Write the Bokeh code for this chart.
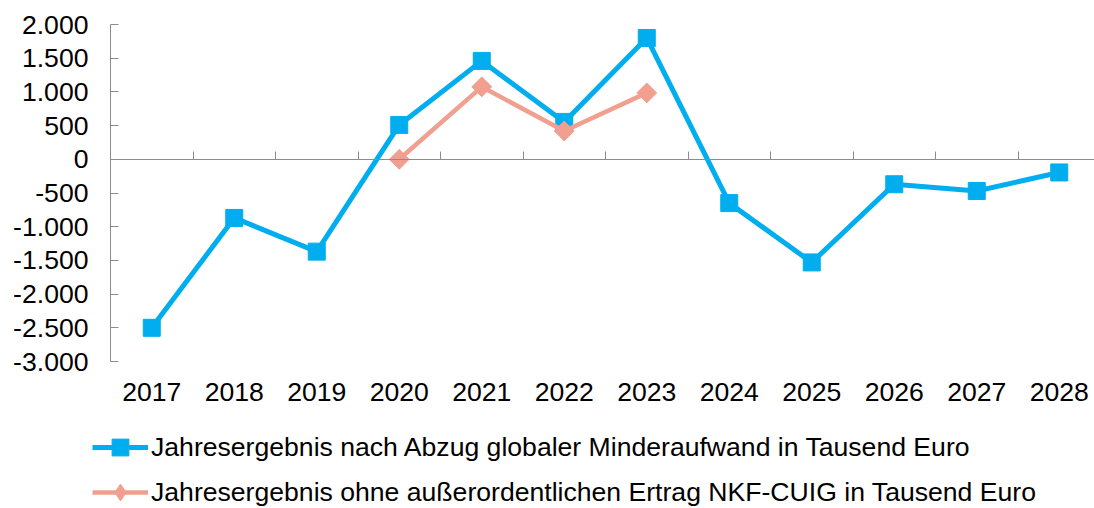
import math
from bokeh.plotting import figure
from bokeh.models import Range1d, LinearAxis, FixedTicker, Legend, LegendItem
from bokeh.embed import file_html
from bokeh.resources import INLINE

# ---- data ----
years = ["2017", "2018", "2019", "2020", "2021", "2022", "2023", "2024", "2025", "2026", "2027", "2028"]
ergebnis = [-2500, -870, -1370, 510, 1460, 555, 1800, -650, -1530, -370, -470, -195]
ohne_years = ["2020", "2021", "2022", "2023"]
ohne = [0, 1075, 420, 985]
y_ticks = [-3000, -2500, -2000, -1500, -1000, -500, 0, 500, 1000, 1500, 2000]
y_labels = ["-3.000", "-2.500", "-2.000", "-1.500", "-1.000", "-500", "0", "500", "1.000", "1.500", "2.000"]
label_blue = "Jahresergebnis nach Abzug globaler Minderaufwand in Tausend Euro"
label_salmon = "Jahresergebnis ohne außerordentlichen Ertrag NKF-CUIG in Tausend Euro"

BLUE = "#00AEEF"
SALMON = "#F19F8F"
AXIS = "#8C8C8C"
FONT = "Liberation Sans"
FS = "26.6px"

W, H = 1094, 508
AX_LEFT = 110          # pixel position of the value axis
TOP = 24               # pixel position of the top tick
BOTTOM = 361           # pixel position of the bottom tick
cat_px = 82.5          # pixel width of one category
px_per_unit = (BOTTOM - TOP) / (max(y_ticks) - min(y_ticks))

x_blue = [years.index(y) for y in years]
x_salmon = [years.index(y) for y in ohne_years]

x_start = -0.5 - AX_LEFT / cat_px
x_end = -0.5 + (W - AX_LEFT) / cat_px
y_end = max(y_ticks) + TOP / px_per_unit
y_start = min(y_ticks) - (H - BOTTOM) / px_per_unit

p = figure(width=W, height=H, output_backend="svg", toolbar_location=None,
           x_range=Range1d(x_start, x_end), y_range=Range1d(y_start, y_end),
           x_axis_location=None, y_axis_location=None,
           min_border_left=0, min_border_right=0, min_border_top=0, min_border_bottom=0)
p.outline_line_color = None
p.grid.visible = False

# y axis
yax = LinearAxis(fixed_location=-0.5,
                 ticker=FixedTicker(ticks=y_ticks),
                 major_label_overrides={t: l for t, l in zip(y_ticks, y_labels)},
                 bounds=(min(y_ticks), max(y_ticks)),
                 axis_line_color=AXIS, major_tick_line_color=AXIS,
                 major_tick_in=8, major_tick_out=0, minor_tick_line_color=None,
                 major_label_standoff=22,
                 major_label_text_font=FONT, major_label_text_font_size=FS,
                 major_label_text_color="black")
p.add_layout(yax, "left")

# zero line with category separators
sep_ticks = [i + 0.5 for i in range(len(years) - 1)]
zax = LinearAxis(fixed_location=0,
                 ticker=FixedTicker(ticks=sep_ticks),
                 major_label_overrides={t: "" for t in sep_ticks},
                 bounds=(-0.5, len(years) - 0.5),
                 axis_line_color=AXIS, major_tick_line_color=AXIS,
                 major_tick_in=8, major_tick_out=0, minor_tick_line_color=None)
p.add_layout(zax, "below")

# category labels
lax = LinearAxis(fixed_location=min(y_ticks),
                 ticker=FixedTicker(ticks=list(range(len(years)))),
                 major_label_overrides={i: y for i, y in enumerate(years)},
                 axis_line_color=None, major_tick_line_color=None, minor_tick_line_color=None,
                 major_label_standoff=15,
                 major_label_text_font=FONT, major_label_text_font_size=FS,
                 major_label_text_color="black")
p.add_layout(lax, "below")

bl = p.line(x_blue, ergebnis, line_width=5, color=BLUE)
bs = p.scatter(x_blue, ergebnis, marker="square", size=17, color=BLUE)
sl = p.line(x_salmon, ohne, line_width=4.5, color=SALMON)
sd = p.scatter(x_salmon, ohne, marker="diamond", size=19, color=SALMON)
ss = p.scatter(x_salmon, ohne, marker="square", angle=math.pi / 4, size=14, color=SALMON)

legend = Legend(items=[LegendItem(label=label_blue, renderers=[bl, bs]),
                       LegendItem(label=label_salmon, renderers=[sl, sd])],
                location=(92, -5), orientation="vertical",
                glyph_width=56, glyph_height=42, label_height=42, spacing=3,
                padding=0, margin=0, label_standoff=3,
                border_line_color=None, background_fill_alpha=0,
                label_text_font=FONT, label_text_font_size=FS, label_text_color="black")
p.add_layout(legend)

open("out.html", "w").write(file_html(p, INLINE))
